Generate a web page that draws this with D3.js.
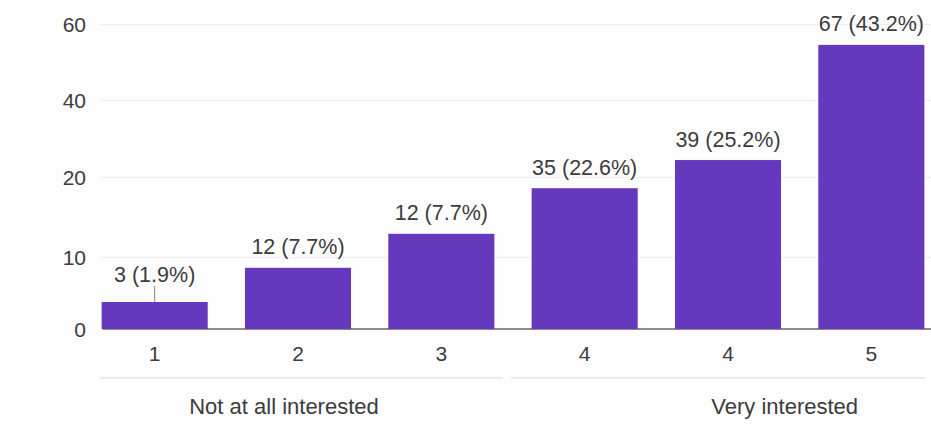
<!DOCTYPE html>
<html>
<head>
<meta charset="utf-8">
<script src="https://cdn.jsdelivr.net/npm/d3@7"></script>
<style>
  body { margin: 0; background: #fdfdfd; }
  svg { font-family: "Liberation Sans", Arial, sans-serif; }
  .tick text { fill: #3c3c3c; font-size: 21px; }
  .grid line { stroke: #efefef; }
  .bar-label { fill: #3c3c3c; font-size: 21.5px; }
  .scale-label { fill: #3c3c3c; font-size: 22px; }
</style>
</head>
<body>
<script>
var WIDTH = 931;
var HEIGHT = 437;

// data
var xLabels = ["1", "2", "3", "4", "4", "5"];
var barLabels = ["3 (1.9%)", "12 (7.7%)", "12 (7.7%)", "35 (22.6%)", "39 (25.2%)", "67 (43.2%)"];
var barValues = [3.75, 8.5, 12.9, 18.6, 24.4, 54.5]; // heights as drawn against the axis
var yTicks = [0, 10, 20, 40, 60];
var endLabels = ["Not at all interested", "Very interested"];

var svg = d3.select("body").append("svg")
    .attr("width", WIDTH)
    .attr("height", HEIGHT);

var x = d3.scaleBand()
    .domain(d3.range(xLabels.length))
    .range([83, 943])
    .paddingInner(0.26)
    .paddingOuter(0.13);

// the axis is not evenly spaced, so map each tick to its own position
var y = d3.scaleLinear()
    .domain(yTicks)
    .range([329, 257, 177, 100, 24]);

// grid lines
svg.append("g")
    .attr("class", "grid")
    .attr("transform", "translate(100,0)")
    .call(d3.axisLeft(y).tickValues(yTicks.slice(1)).tickSize(-(WIDTH - 100)).tickFormat(""))
    .call(function (g) { g.select(".domain").remove(); });

// y tick labels
svg.append("g")
    .attr("transform", "translate(86,0)")
    .call(d3.axisLeft(y).tickValues(yTicks).tickSize(0).tickPadding(0))
    .call(function (g) { g.select(".domain").remove(); })
    .selectAll("text").attr("dy", "0.35em");

// baseline
svg.append("line")
    .attr("x1", 103).attr("x2", WIDTH)
    .attr("y1", y(0)).attr("y2", y(0))
    .attr("stroke", "#666")
    .attr("stroke-width", 1.5);

svg.append("g").selectAll("rect")
    .data(barValues)
    .enter()
    .append("rect")
    .attr("x", function (d, i) { return x(i); })
    .attr("y", function (d) { return y(d); })
    .attr("width", x.bandwidth())
    .attr("height", function (d) { return y(0) - y(d); })
    .attr("fill", "#6538bd");

// labels above bars; short bars get a leader line
var labels = svg.append("g").selectAll("g")
    .data(barValues)
    .enter()
    .append("g");

labels.filter(function (d) { return y(0) - y(d) < 40; })
    .append("line")
    .attr("x1", function (d, i) { return x(i) + x.bandwidth() / 2; })
    .attr("x2", function (d, i) { return x(i) + x.bandwidth() / 2; })
    .attr("y1", function (d) { return y(d) - 16; })
    .attr("y2", function (d) { return y(d); })
    .attr("stroke", "#888")
    .attr("stroke-width", 1);

labels.append("text")
    .attr("class", "bar-label")
    .attr("text-anchor", "middle")
    .attr("x", function (d, i) { return x(i) + x.bandwidth() / 2; })
    .attr("y", function (d) { return y(d) - (y(0) - y(d) < 40 ? 28 : 21); })
    .attr("dy", "0.35em")
    .text(function (d, i) { return barLabels[i]; });

// x tick labels
svg.append("g")
    .attr("transform", "translate(0," + y(0) + ")")
    .call(d3.axisBottom(x).tickSize(0).tickPadding(17).tickFormat(function (i) { return xLabels[i]; }))
    .call(function (g) { g.select(".domain").remove(); });

// scale end separators
svg.append("line")
    .attr("x1", 100).attr("x2", 503).attr("y1", 378).attr("y2", 378)
    .attr("stroke", "#e3e3e3").attr("stroke-width", 1.5);
svg.append("line")
    .attr("x1", 511).attr("x2", 925).attr("y1", 378).attr("y2", 378)
    .attr("stroke", "#e3e3e3").attr("stroke-width", 1.5);

var c = function (i) { return x(i) + x.bandwidth() / 2; };
svg.append("text")
    .attr("class", "scale-label")
    .attr("text-anchor", "middle")
    .attr("x", c(1) - 14)
    .attr("y", 406)
    .attr("dy", "0.35em")
    .text(endLabels[0]);
svg.append("text")
    .attr("class", "scale-label")
    .attr("text-anchor", "middle")
    .attr("x", (c(4) + c(5)) / 2 - 15)
    .attr("y", 406)
    .attr("dy", "0.35em")
    .text(endLabels[1]);
</script>
</body>
</html>
